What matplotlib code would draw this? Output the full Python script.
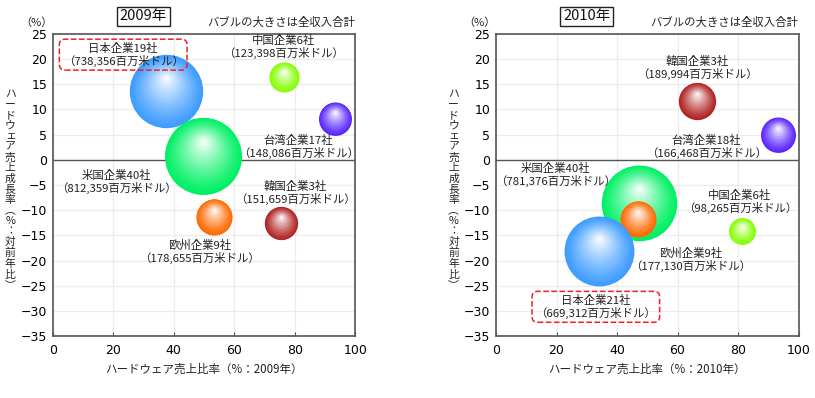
import matplotlib
matplotlib.use('Agg')
import matplotlib.pyplot as plt
import matplotlib.transforms as mtransforms
import matplotlib.colors as mcolors
import numpy as np

plt.rcParams['font.family'] = ['Noto Sans CJK JP', 'DejaVu Sans']

# data
names = ['日本企業', '米国企業', '中国企業', '台湾企業', '韓国企業', '欧州企業']
colors = ['#3d9cff', '#00f064', '#84ff00', '#5a26ff', '#b02222', '#ff6a00']

cnt_2009 = [19, 40, 6, 17, 3, 9]
rev_2009 = [738356, 812359, 123398, 148086, 151659, 178655]
hw_2009 = [37.4, 49.8, 76.3, 93.4, 75.4, 53.2]
gr_2009 = [13.6, 0.8, 16.4, 8.2, -12.6, -11.3]

cnt_2010 = [21, 40, 6, 18, 3, 9]
rev_2010 = [669312, 781376, 98265, 166468, 189994, 177130]
hw_2010 = [34.1, 47.4, 81.3, 93.1, 66.6, 46.9]
gr_2010 = [-18.2, -8.5, -14.2, 5.0, 11.7, -11.7]

# label positions (data coords)
lab_2009 = [(23.3, 20.9), (21.2, -4.3), (76.2, 22.5), (81.3, 2.6), (80.2, -6.6), (48.5, -18.2)]
lab_2010 = [(33.0, -29.2), (19.7, -3.0), (80.6, -8.3), (69.6, 2.6), (66.6, 18.2), (64.4, -19.9)]

dpi = 100
fig = plt.figure(figsize=(8.15, 3.98), dpi=dpi)

px = 1 / 815
py = 1 / 398
k = 77 / np.sqrt(812359)  # bubble diameter in px per sqrt(revenue)


def sphere(ax, x, y, rev, col, z):
    d = k * np.sqrt(rev) * 72 / dpi  # diameter in points
    base = np.array(mcolors.to_rgb(col))
    n = 40
    for i in range(n):
        t = i / n
        s = d * (1 - t)
        dy = t * 0.4 * d / 2
        c = base + (1 - base) * (t ** 1.2)
        tr = mtransforms.offset_copy(ax.transData, fig=fig, x=0, y=dy, units='points')
        ax.scatter([x], [y], s=s ** 2, color=c, lw=0, transform=tr, zorder=z + i * 0.001)


def panel(left, hw, gr, rev, cnt, labs, year):
    ax = fig.add_axes([left, 1 - 336 * py, 302.5 * px, 302 * py])
    ax.set_xlim(0, 100)
    ax.set_ylim(-35, 25)
    ax.set_xticks(range(0, 101, 20))
    ax.set_yticks(range(-35, 26, 5))
    ax.set_yticklabels([str(v).replace('-', '−') for v in range(-35, 26, 5)])
    for lb in ax.get_xticklabels() + ax.get_yticklabels():
        lb.set_family('DejaVu Sans')
    ax.grid(color='#ececec', lw=0.9)
    ax.set_axisbelow(True)
    ax.axhline(0, color='#555555', lw=1, zorder=1)
    for sp in ax.spines.values():
        sp.set_color('#555555')
        sp.set_linewidth(1.2)
    ax.tick_params(axis='x', direction='in', length=3, color='#555555', labelsize=9, pad=6)
    ax.tick_params(axis='y', length=0, labelsize=9, pad=4)

    order = np.argsort(gr)[::-1]
    for j, i in enumerate(order):
        sphere(ax, hw[i], gr[i], rev[i], colors[i], 2 + j)

    for i in range(len(names)):
        txt = f'{names[i]}{cnt[i]}社\n（{rev[i]:,}百万米ドル）'
        kw = {}
        if i == 0:
            kw['bbox'] = dict(boxstyle='round,pad=0.3,rounding_size=0.5', fc='none',
                              ec='#ee2222', ls='--', lw=1.1)
        ax.text(labs[i][0], labs[i][1], txt, ha='center', va='center', fontsize=8.2,
                linespacing=1.1, color='#222222', zorder=20, **kw)

    ax.text(1.0, 1.02, 'バブルの大きさは全収入合計', transform=ax.transAxes, ha='right',
            va='bottom', fontsize=8.2, color='#222222')
    ax.text(-0.053, 1.02, '（%）', transform=ax.transAxes, ha='center', va='bottom',
            fontsize=8, color='#222222')
    ax.set_xlabel(f'ハードウェア売上比率（%：{year}年）', fontsize=8.3, labelpad=4, color='#222222')
    ylab = 'ハードウェア売上成長率︵%：対前年比︶'
    ax.text(-0.14, 0.485, '\n'.join(ylab), transform=ax.transAxes, ha='center', va='center',
            fontsize=7.8, linespacing=1.07, color='#222222')
    ax.text(0.3, 1.058, f'{year}年', transform=ax.transAxes, ha='center', va='center',
            fontsize=10.5, color='#111111',
            bbox=dict(boxstyle='square,pad=0.2', fc='white', ec='#222222', lw=1))
    return ax


panel(52.7 * px, hw_2009, gr_2009, rev_2009, cnt_2009, lab_2009, 2009)
panel(496 * px, hw_2010, gr_2010, rev_2010, cnt_2010, lab_2010, 2010)

fig.savefig('out.png', dpi=dpi)
